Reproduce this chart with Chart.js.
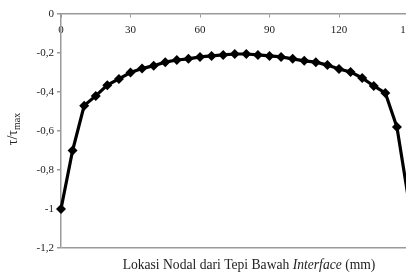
<!DOCTYPE html>
<html>
<head>
<meta charset="utf-8">
<script src="https://cdn.jsdelivr.net/npm/chart.js@4"></script>
<style>
  html, body { margin: 0; padding: 0; background: #fff; overflow: hidden; }
  #wrap { width: 406px; height: 275px; overflow: hidden; }
</style>
</head>
<body>
<div id="wrap"><canvas id="chart" width="432" height="275"></canvas></div>
<script>
// node positions (mm) and normalised shear stress
const nodes = [0, 5, 10, 15, 20, 25, 30, 35, 40, 45, 50, 55, 60, 65, 70, 75,
  80, 85, 90, 95, 100, 105, 110, 115, 120, 125, 130, 135, 140, 145, 150];
const tauRatio = [-1, -0.70, -0.47, -0.42, -0.365, -0.333, -0.30, -0.28, -0.265, -0.247,
  -0.236, -0.23, -0.22, -0.215, -0.21, -0.205, -0.205, -0.21, -0.215, -0.22,
  -0.23, -0.24, -0.247, -0.262, -0.282, -0.297, -0.328, -0.369, -0.405, -0.58, -0.95];
const xTicks = [0, 30, 60, 90, 120, 150];
const yTicks = [0, -0.2, -0.4, -0.6, -0.8, -1, -1.2];

const axisGray = '#9a9a9a';
const serif = '"Liberation Serif", "DejaVu Serif", serif';

// axis titles: subscript on the y title and italic word on the x title
const titles = {
  id: 'titles',
  afterDraw(chart) {
    const ctx = chart.ctx;
    ctx.save();
    ctx.fillStyle = '#222';
    ctx.textBaseline = 'alphabetic';

    // y title, rotated
    ctx.translate(17, 129);
    ctx.rotate(-Math.PI / 2);
    ctx.font = '14px ' + serif;
    const main = 'τ/τ';
    const wMain = ctx.measureText(main).width;
    ctx.font = '10px ' + serif;
    const wSub = ctx.measureText('max').width;
    const x0 = -(wMain + wSub) / 2;
    ctx.font = '14px ' + serif;
    ctx.fillText(main, x0, 0);
    ctx.font = '10px ' + serif;
    ctx.fillText('max', x0 + wMain, 3);
    ctx.restore();

    // x title
    ctx.save();
    ctx.fillStyle = '#222';
    ctx.textBaseline = 'alphabetic';
    const parts = [
      ['Lokasi Nodal dari Tepi Bawah ', 'normal'],
      ['Interface', 'italic'],
      [' (mm)', 'normal']
    ];
    let total = 0;
    parts.forEach(p => {
      ctx.font = p[1] + ' 13.6px ' + serif;
      p.push(ctx.measureText(p[0]).width);
      total += p[2];
    });
    let x = 249 - total / 2;
    parts.forEach(p => {
      ctx.font = p[1] + ' 13.6px ' + serif;
      ctx.fillText(p[0], x, 269);
      x += p[2];
    });
    ctx.restore();
  }
};

new Chart(document.getElementById('chart'), {
  type: 'line',
  data: {
    datasets: [{
      data: nodes.map((n, i) => ({ x: n, y: tauRatio[i] })),
      borderColor: '#000',
      backgroundColor: '#000',
      borderWidth: 3.2,
      pointStyle: 'rectRot',
      pointRadius: c => (c.dataIndex === nodes.length - 1 ? 0 : 5),
      pointBorderWidth: 0,
      tension: 0
    }]
  },
  options: {
    responsive: false,
    animation: false,
    clip: false,
    layout: { padding: { top: 14, bottom: 27, left: 0, right: 23.5 } },
    plugins: { legend: { display: false }, tooltip: { enabled: false } },
    scales: {
      x: {
        type: 'linear',
        position: { y: 0 },
        min: 0,
        max: 150,
        afterBuildTicks: s => { s.ticks = xTicks.map(v => ({ value: v })); },
        border: { color: axisGray, width: 1.5 },
        grid: { drawOnChartArea: false, tickLength: 3, tickColor: axisGray },
        ticks: { color: '#222', font: { family: serif, size: 11 }, padding: 7, maxRotation: 0 }
      },
      y: {
        min: -1.2,
        max: 0,
        afterBuildTicks: s => { s.ticks = yTicks.map(v => ({ value: v })); },
        afterFit: s => { s.width = 61; },
        border: { color: axisGray, width: 1.5 },
        grid: {
          color: c => (c.tick && Math.abs(c.tick.value + 1.2) < 1e-6) ? axisGray : 'rgba(0,0,0,0)',
          lineWidth: 1.5,
          tickLength: 4,
          tickColor: axisGray
        },
        ticks: {
          color: '#222',
          font: { family: serif, size: 11 },
          padding: 3,
          callback: v => String(Math.round(v * 10) / 10).replace('.', ',')
        }
      }
    }
  },
  plugins: [titles]
});
</script>
</body>
</html>
